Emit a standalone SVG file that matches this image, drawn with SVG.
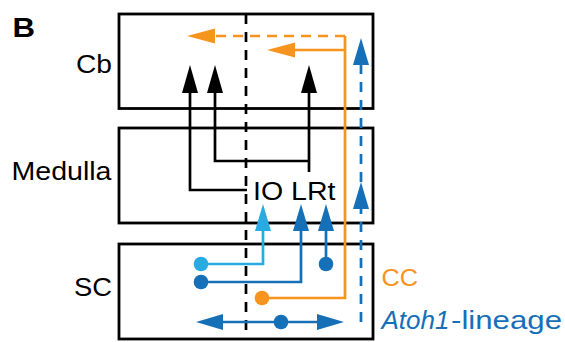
<svg xmlns="http://www.w3.org/2000/svg" width="565" height="342" viewBox="0 0 565 342">
<style>
.box{fill:none;stroke:#000;stroke-width:2.8}
.lbl{font-family:"Liberation Sans",Arial,sans-serif;font-size:26px;fill:#000}
.ln{fill:none;stroke-width:2.7}
.k{stroke:#000}
.o{stroke:#F7941D}
.lb{stroke:#29ABE2}
.db{stroke:#1570B8}
</style>
<defs>
<marker id="ak" markerUnits="userSpaceOnUse" markerWidth="28" markerHeight="16" viewBox="0 -8 28 16" refX="0" refY="0" orient="auto" overflow="visible"><path d="M0,-8 L28,0 L0,8 Z" fill="#000"/></marker>
<marker id="ao" markerUnits="userSpaceOnUse" markerWidth="28" markerHeight="16" viewBox="0 -8 28 16" refX="0" refY="0" orient="auto" overflow="visible"><path d="M0,-7.5 L28,0 L0,7.5 Z" fill="#F7941D"/></marker>
<marker id="alb" markerUnits="userSpaceOnUse" markerWidth="28" markerHeight="16" viewBox="0 -8 28 16" refX="0" refY="0" orient="auto" overflow="visible"><path d="M0,-8 L27,0 L0,8 Z" fill="#29ABE2"/></marker>
<marker id="adb" markerUnits="userSpaceOnUse" markerWidth="28" markerHeight="16" viewBox="0 -8 28 16" refX="0" refY="0" orient="auto-start-reverse" overflow="visible"><path d="M0,-8 L27,0 L0,8 Z" fill="#1570B8"/></marker>
</defs>
<text class="lbl" x="12.5" y="37" style="font-size:28px;font-weight:bold" textLength="22.5" lengthAdjust="spacingAndGlyphs">B</text>
<g id="cb"><rect class="box" x="119" y="14" width="254" height="94.5"/><text class="lbl" x="76" y="72.5" textLength="36" lengthAdjust="spacingAndGlyphs">Cb</text></g>
<g id="medulla"><rect class="box" x="119" y="128" width="254" height="95"/><text class="lbl" x="11.5" y="180" textLength="100" lengthAdjust="spacingAndGlyphs">Medulla</text></g>
<g id="sc"><rect class="box" x="119" y="244" width="254" height="95"/><text class="lbl" x="74" y="296" textLength="38" lengthAdjust="spacingAndGlyphs">SC</text></g>
<g id="io-lrt"><text class="lbl" x="253" y="200" textLength="82.5" lengthAdjust="spacingAndGlyphs">IO LRt</text></g>
<g id="cc-label"><text class="lbl" x="381.5" y="286" style="font-size:24px;fill:#F7941D" textLength="36.5" lengthAdjust="spacingAndGlyphs">CC</text></g>
<g id="atoh1-label"><text class="lbl" x="381.5" y="329" style="font-size:25px;fill:#1570B8;font-style:italic" textLength="68" lengthAdjust="spacingAndGlyphs">Atoh1</text><text class="lbl" x="451" y="329" style="font-size:25px;fill:#1570B8" textLength="111" lengthAdjust="spacingAndGlyphs">-lineage</text></g>
<g id="connectors">
<line class="ln k" x1="246" y1="14" x2="246" y2="340" stroke-dasharray="10 8"/>
<path class="ln k" d="M247,190 H190 V93" marker-end="url(#ak)"/>
<path class="ln k" d="M309,161 H215 V93" marker-end="url(#ak)"/>
<path class="ln k" d="M309,172 V93" marker-end="url(#ak)"/>
<path class="ln o" d="M262,298 H345 V36"/>
<path class="ln o" d="M345,36 H215" stroke-dasharray="10 7" marker-end="url(#ao)"/>
<path class="ln o" d="M345,50 H295" marker-end="url(#ao)"/>
<circle cx="262" cy="298" r="7.3" fill="#F7941D"/>
<path class="ln lb" d="M201,264 H263 V231" marker-end="url(#alb)"/>
<circle cx="201" cy="264" r="7.3" fill="#29ABE2"/>
<path class="ln db" d="M201,282 H301 V231" marker-end="url(#adb)"/>
<circle cx="201" cy="282" r="7.3" fill="#1570B8"/>
<path class="ln db" d="M326,264 V231" marker-end="url(#adb)"/>
<circle cx="326" cy="264" r="7.3" fill="#1570B8"/>
<path class="ln db" d="M361,322 V209" stroke-dasharray="10 8" marker-end="url(#adb)"/>
<path class="ln db" d="M361,182 V65" stroke-dasharray="10 8" marker-end="url(#adb)"/>
<path class="ln db" d="M223,322 H317" marker-start="url(#adb)" marker-end="url(#adb)"/>
<circle cx="281" cy="322" r="7.3" fill="#1570B8"/>
</g>
</svg>
